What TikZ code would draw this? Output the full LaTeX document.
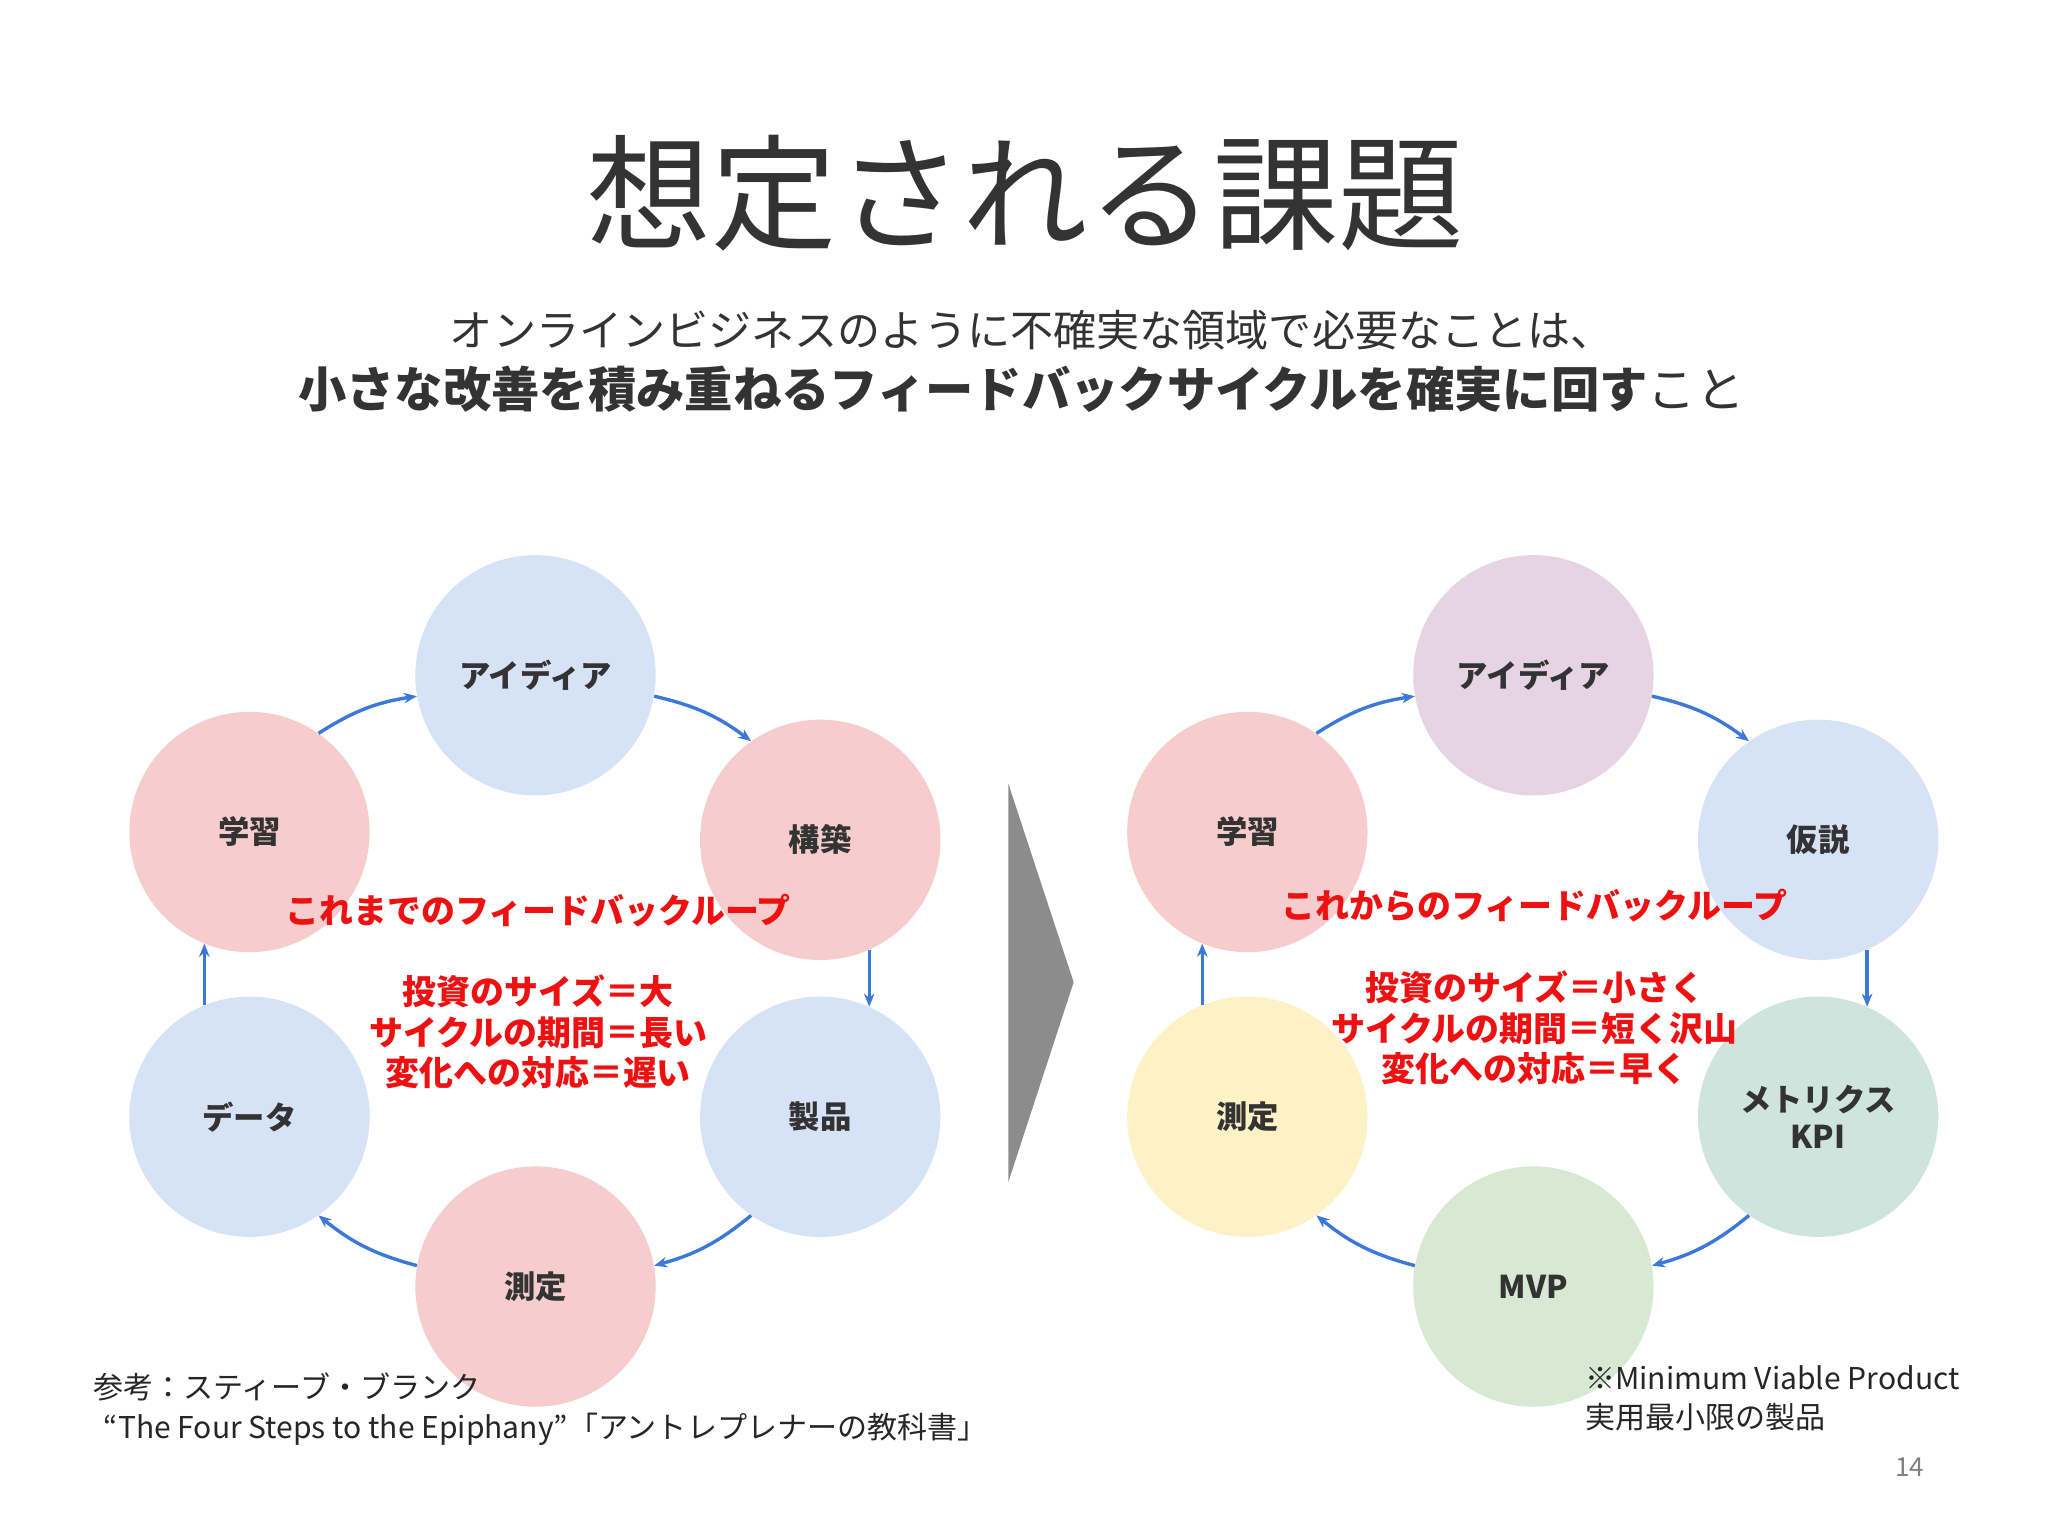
\documentclass[tikz,border=0pt]{standalone}
\usepackage{fontspec}
\setmainfont{Noto Sans CJK JP}
\usetikzlibrary{arrows.meta}
\definecolor{cblue}{HTML}{D6E2F5}
\definecolor{cpink}{HTML}{F6CCCC}
\definecolor{cpurp}{HTML}{E6D3E3}
\definecolor{cgreen}{HTML}{D7E8D3}
\definecolor{cteal}{HTML}{CFE4DD}
\definecolor{cyel}{HTML}{FDF2C6}
\definecolor{arr}{HTML}{3B78D8}
\definecolor{tred}{HTML}{EE1111}
\tikzset{
 circ/.style={circle,minimum size=184pt,inner sep=0pt,font=\fontsize{24}{28}\selectfont\bfseries,text=black!80},
 cyc/.style={-{Stealth[length=10pt,width=8pt]},draw=arr,line width=2.6pt},
 red/.style={text=tred,font=\fontsize{26}{31}\selectfont\bfseries,align=center},
 note/.style={anchor=west,font=\fontsize{23}{27}\selectfont,text=black!85}
}
\begin{document}
\begin{tikzpicture}[x=1pt,y=-1pt]
\useasboundingbox (0,0) rectangle (1568,1176);
\fill[white] (0,0) rectangle (1568,1176);
\node[font=\fontsize{96}{104}\selectfont,text=black!80] (title) at (785,148) {想定される課題};
\node[font=\fontsize{33}{38}\selectfont,text=black!80] (sub1) at (790,253) {オンラインビジネスのように不確実な領域で必要なことは、};
\node[font=\fontsize{37}{42}\selectfont,text=black!80] (sub2) at (782,298) {\textbf{小さな改善を積み重ねるフィードバックサイクルを確実に回す}こと};
% left cycle
\node[circ,fill=cblue] (l1) at (410,517) {アイディア};
\node[circ,fill=cpink] (l2) at (628,643) {構築};
\node[circ,fill=cblue] (l3) at (628,855) {製品};
\node[circ,fill=cpink] (l4) at (410,985) {測定};
\node[circ,fill=cblue] (l5) at (191,855) {データ};
\node[circ,fill=cpink] (l6) at (191,637) {学習};
% right cycle
\node[circ,fill=cpurp] (r1) at (1174,517) {アイディア};
\node[circ,fill=cblue] (r2) at (1392,643) {仮説};
\node[circ,fill=cteal,align=center] (r3) at (1392,855) {メトリクス\\KPI};
\node[circ,fill=cgreen] (r4) at (1174,985) {MVP};
\node[circ,fill=cyel] (r5) at (955,855) {測定};
\node[circ,fill=cpink] (r6) at (955,637) {学習};
\foreach \p in {l,r}{
 \draw[cyc] (\p6.55) to[bend left=12] (\p1.190);
 \draw[cyc] (\p1.350) to[bend left=12] (\p2.125);
 \draw[cyc] (\p2.294) -- (\p3.66);
 \draw[cyc] (\p3.235) to[bend left=12] (\p4.10);
 \draw[cyc] (\p4.170) to[bend left=12] (\p5.305);
 \draw[cyc] (\p5.112) -- (\p6.248);
}
\node[red] (lt) at (412,697) {これまでのフィードバックループ};
\node[red] (ls) at (412,790) {投資のサイズ＝大\\サイクルの期間＝長い\\変化への対応＝遅い};
\node[red] (rt) at (1175,693) {これからのフィードバックループ};
\node[red] (rs) at (1175,787) {投資のサイズ＝小さく\\サイクルの期間＝短く沢山\\変化への対応＝早く};
\fill[black!45] (772,600) -- (822,752) -- (772,905) -- cycle;
\node[note] (n1) at (68,1062) {参考：スティーブ・ブランク};
\node[note] (n2) at (76,1094) {“The Four Steps to the Epiphany”「アントレプレナーの教科書」};
\node[note] (n3) at (1210,1055) {※Minimum Viable Product};
\node[note] (n4) at (1210,1085) {実用最小限の製品};
\node[font=\fontsize{20}{24}\selectfont,text=black!50] (pg) at (1462,1123) {14};
\end{tikzpicture}
\end{document}
